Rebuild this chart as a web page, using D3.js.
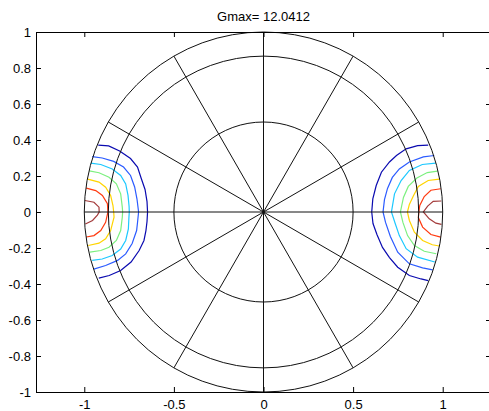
<!DOCTYPE html>
<html>
<head>
<meta charset="utf-8">
<script src="https://cdn.jsdelivr.net/npm/d3@7"></script>
<style>
  html, body { margin: 0; padding: 0; background: #fff; }
  svg { display: block; }
  text { font-family: "Liberation Sans", Arial, Helvetica, sans-serif; font-size: 13px; fill: #000; }
</style>
</head>
<body>
<svg id="chart" width="489" height="411"></svg>
<script>
// Peak gain shown in the title
const gmax = 12.0412;

// Axis ticks
const xTicks = [-1, -0.5, 0, 0.5, 1];
const yTicks = [-1, -0.8, -0.6, -0.4, -0.2, 0, 0.2, 0.4, 0.6, 0.8, 1];

// Polar grid in direction-cosine space: rings at sin(30°), sin(60°), sin(90°), spokes every 30°
const ringRadii = [0.5, 0.866, 1];
const spokeAngles = [0, 30, 60, 90, 120, 150, 180, 210, 240, 270, 300, 330];

// Contour lines (u, v), lowest level first. Left lobe (phi = 180°).
const left1 = [[-0.922,0.372],[-0.864,0.367],[-0.803,0.339],[-0.742,0.297],[-0.703,0.25],[-0.683,0.189],[-0.661,0.125],[-0.65,0.058],[-0.647,0],[-0.65,-0.053],[-0.656,-0.103],[-0.667,-0.158],[-0.694,-0.214],[-0.739,-0.278],[-0.797,-0.325],[-0.861,-0.353],[-0.919,-0.367]];
const left2 = [[-0.956,0.308],[-0.9,0.3],[-0.836,0.281],[-0.781,0.25],[-0.742,0.203],[-0.719,0.139],[-0.706,0.072],[-0.697,0],[-0.703,-0.058],[-0.708,-0.103],[-0.733,-0.175],[-0.769,-0.233],[-0.814,-0.269],[-0.881,-0.297],[-0.947,-0.317]];
const left3 = [[-0.964,0.272],[-0.908,0.264],[-0.844,0.239],[-0.797,0.203],[-0.769,0.156],[-0.756,0.092],[-0.75,0.031],[-0.749,0],[-0.751,-0.031],[-0.754,-0.094],[-0.769,-0.158],[-0.797,-0.206],[-0.844,-0.242],[-0.9,-0.261],[-0.956,-0.269]];
const left4 = [[-0.972,0.228],[-0.918,0.218],[-0.862,0.193],[-0.821,0.157],[-0.797,0.101],[-0.788,0.027],[-0.786,0],[-0.788,-0.029],[-0.797,-0.103],[-0.821,-0.158],[-0.862,-0.196],[-0.908,-0.214],[-0.969,-0.223]];
const left5 = [[-0.981,0.183],[-0.918,0.166],[-0.881,0.138],[-0.853,0.092],[-0.84,0.036],[-0.836,0],[-0.834,-0.029],[-0.853,-0.103],[-0.881,-0.149],[-0.918,-0.173],[-0.978,-0.186]];
const left6 = [[-0.989,0.133],[-0.936,0.119],[-0.899,0.092],[-0.871,0.046],[-0.868,0],[-0.881,-0.057],[-0.908,-0.103],[-0.946,-0.131],[-0.989,-0.139]];
const left7 = [[-0.997,0.064],[-0.946,0.054],[-0.918,0.027],[-0.917,0],[-0.927,-0.017],[-0.954,-0.047],[-0.994,-0.067]];

// Right lobe (phi = 0°).
const right1 = [[0.919,0.372],[0.86,0.369],[0.796,0.351],[0.742,0.314],[0.703,0.278],[0.658,0.221],[0.629,0.147],[0.61,0.073],[0.604,0],[0.611,-0.064],[0.633,-0.125],[0.664,-0.197],[0.703,-0.253],[0.749,-0.307],[0.814,-0.353],[0.879,-0.372],[0.919,-0.381]];
const right2 = [[0.953,0.314],[0.892,0.306],[0.814,0.278],[0.758,0.239],[0.719,0.192],[0.692,0.131],[0.675,0.069],[0.667,0],[0.681,-0.058],[0.708,-0.136],[0.749,-0.223],[0.814,-0.288],[0.888,-0.31],[0.944,-0.322]];
const right3 = [[0.961,0.272],[0.886,0.264],[0.814,0.231],[0.768,0.175],[0.731,0.101],[0.714,0],[0.733,-0.058],[0.758,-0.131],[0.796,-0.204],[0.86,-0.251],[0.956,-0.278]];
const right4 = [[0.971,0.227],[0.914,0.219],[0.856,0.189],[0.808,0.142],[0.781,0.081],[0.764,0],[0.778,-0.058],[0.804,-0.131],[0.842,-0.186],[0.897,-0.218],[0.964,-0.232]];
const right5 = [[0.981,0.183],[0.919,0.175],[0.864,0.142],[0.836,0.089],[0.814,0.042],[0.803,0],[0.814,-0.047],[0.842,-0.112],[0.888,-0.158],[0.942,-0.182],[0.981,-0.189]];
const right6 = [[0.989,0.129],[0.934,0.121],[0.897,0.086],[0.872,0.036],[0.867,0],[0.864,-0.031],[0.888,-0.084],[0.934,-0.125],[0.989,-0.14]];
const right7 = [[0.992,0.061],[0.947,0.059],[0.916,0.033],[0.892,0],[0.925,-0.038],[0.962,-0.062],[0.993,-0.069]];

const leftLobe = [left1, left2, left3, left4, left5, left6, left7];
const rightLobe = [right1, right2, right3, right4, right5, right6, right7];

// Jet-style colours, one per contour level
const levelColors = ["#0a0ab0", "#2b5bff", "#1cc8ff", "#7cf07f", "#ffd400", "#ff3a10", "#a33a3a"];

const svg = d3.select("#chart");
const plot = { left: 36, right: 491, top: 32, bottom: 392 };

const x = d3.scaleLinear().domain([-1.2695, 1.2695]).range([plot.left, plot.right]);
const y = d3.scaleLinear().domain([-1, 1]).range([plot.bottom, plot.top]);

const line = d3.line().x(d => x(d[0])).y(d => y(d[1]));

// Contours
const contourGroup = svg.append("g").attr("fill", "none").attr("stroke-width", 1.2);
[leftLobe, rightLobe].forEach(lobe => {
  lobe.forEach((pts, i) => {
    contourGroup.append("path")
      .attr("d", line(pts))
      .attr("stroke", levelColors[i]);
  });
});

// Polar grid
const gridGroup = svg.append("g").attr("fill", "none").attr("stroke", "#111").attr("stroke-width", 1);
const ringSteps = d3.range(0, 361, 5);
ringRadii.forEach(r => {
  gridGroup.append("path")
    .attr("d", line(ringSteps.map(a => [r * Math.cos(a * Math.PI / 180), r * Math.sin(a * Math.PI / 180)])));
});
spokeAngles.forEach(a => {
  const t = a * Math.PI / 180;
  gridGroup.append("path").attr("d", line([[0, 0], [Math.cos(t), Math.sin(t)]]));
});

// Axes box with inward ticks
const fmt = d => String(d);
svg.append("g")
  .attr("transform", `translate(0,${plot.bottom})`)
  .call(d3.axisBottom(x).tickValues(xTicks).tickSizeInner(-5).tickSizeOuter(0).tickPadding(8).tickFormat(fmt));
svg.append("g")
  .attr("transform", `translate(0,${plot.top})`)
  .call(d3.axisTop(x).tickValues(xTicks).tickSizeInner(-5).tickSizeOuter(0).tickFormat(""));
svg.append("g")
  .attr("transform", `translate(${plot.left},0)`)
  .call(d3.axisLeft(y).tickValues(yTicks).tickSizeInner(-5).tickSizeOuter(0).tickPadding(5).tickFormat(fmt));
svg.append("g")
  .attr("transform", `translate(${plot.right},0)`)
  .call(d3.axisRight(y).tickValues(yTicks).tickSizeInner(-5).tickSizeOuter(0).tickFormat(""));

svg.selectAll(".tick text")
  .style("font-family", "'Liberation Sans', Arial, Helvetica, sans-serif")
  .style("font-size", "13px")
  .attr("fill", "#000");

// Title
svg.append("text")
  .attr("x", x(0))
  .attr("y", 20.5)
  .attr("text-anchor", "middle")
  .text(`Gmax= ${gmax}`);
</script>
</body>
</html>
